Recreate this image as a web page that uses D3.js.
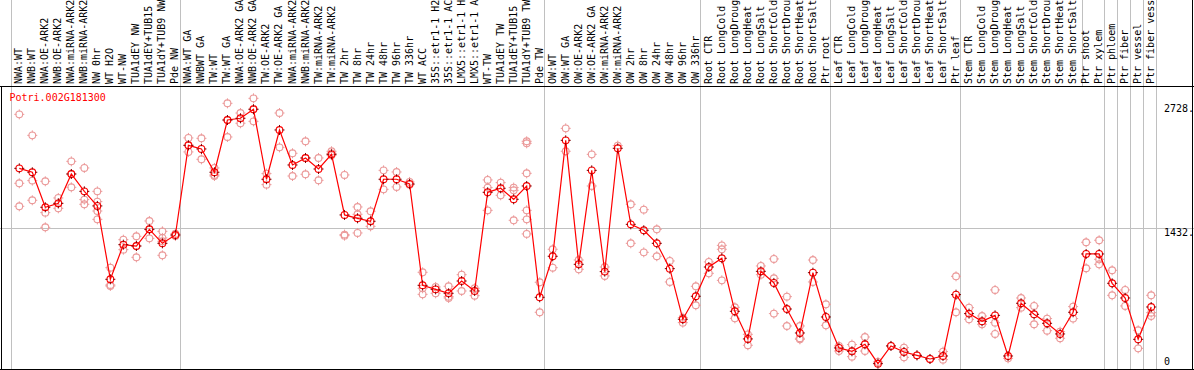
<!DOCTYPE html>
<html>
<head>
<meta charset="utf-8">
<script src="https://cdn.jsdelivr.net/npm/d3@7"></script>
<style>
  html, body { margin: 0; padding: 0; background: #fff; }
  svg { display: block; }
  text { font-family: "DejaVu Sans Mono", "Liberation Mono", monospace; font-size: 10px; }
</style>
</head>
<body>
<div class="chart-container"></div>
<script>
const geneName = 'Potri.002G181300';

const sampleLabels = [
  'NWA:WT', 'NWB:WT', 'NWA:OE-ARK2', 'NWB:OE-ARK2', 'NWA:miRNA-ARK2', 'NWB:miRNA-ARK2', 'NW 0hr', 'WT H2O', 'WT-NW',
  'TUA1dEY NW', 'TUA1dEY+TUB15', 'TUA1dY+TUB9 NW', 'Pde NW',
  'NWA:WT GA', 'NWBWT GA', 'TW:WT', 'TW:WT GA', 'NWA:OE-ARK2 GA', 'NWB:OE-ARK2 GA', 'TW:OE-ARK2', 'TW:OE-ARK2 GA',
  'NWA:miRNA-ARK2', 'NWB:miRNA-ARK2', 'TW:miRNA-ARK2', 'TW:miRNA-ARK2', 'TW 2hr', 'TW 8hr', 'TW 24hr', 'TW 48hr',
  'TW 96hr', 'TW 336hr', 'WT ACC', '35S::etr1-1 H2', '35S::etr1-1 AC', 'LMX5::etr1-1 H', 'LMX5::etr1-1 A', 'WT-TW',
  'TUA1dEY TW', 'TUA1dEY+TUB15', 'TUA1dY+TUB9 TW', 'Pde TW',
  'OW:WT', 'OW:WT GA', 'OW:OE-ARK2', 'OW:OE-ARK2 GA', 'OW:miRNA-ARK2', 'OW:miRNA-ARK2', 'OW 2hr', 'OW 8hr', 'OW 24hr',
  'OW 48hr', 'OW 96hr', 'OW 336hr',
  'Root CTR', 'Root LongCold', 'Root LongDroug', 'Root LongHeat', 'Root LongSalt', 'Root ShortCold', 'Root ShortDrou',
  'Root ShortHeat', 'Root ShortSalt', 'Ptr root',
  'Leaf CTR', 'Leaf LongCold', 'Leaf LongDroug', 'Leaf LongHeat', 'Leaf LongSalt', 'Leaf ShortCold', 'Leaf ShortDrou',
  'Leaf ShortHeat', 'Leaf ShortSalt', 'Ptr leaf',
  'Stem CTR', 'Stem LongCold', 'Stem LongDroug', 'Stem LongHeat', 'Stem LongSalt', 'Stem ShortCold', 'Stem ShortDrou',
  'Stem ShortHeat', 'Stem ShortSalt', 'Ptr shoot', 'Ptr xylem',
  'Ptr phloem', 'Ptr fiber', 'Ptr vessel', 'Ptr fiber vess'
];

// moyenne par échantillon
const meanValues = [
  2054, 2013, 1648, 1689, 1995, 1814, 1662, 897, 1258, 1244, 1418, 1272, 1359,
  2294, 2256, 2013, 2558, 2576, 2670, 1940, 2454, 2089, 2162, 2047, 2200, 1568, 1533, 1502,
  1940, 1940, 1891, 834, 792, 751, 879, 775, 1804, 1846, 1731, 1870, 709,
  1137, 2346, 1053, 2033, 977, 2263, 1470, 1408, 1272, 1008, 480, 720,
  1025, 1116, 563, 275, 980, 859, 587, 337, 966, 504,
  181, 146, 219, 17, 202, 139, 104, 66, 97, 737,
  539, 459, 521, 97, 647, 532, 438, 327, 553, 1161, 1161,
  855, 702, 271, 608
];

// réplicats
const replicateValues = [
  [2617, 1898, 1658], [2398, 1926, 1721], [1919, 1592, 1439], [1745, 1689, 1637], [2127, 1995, 1856],
  [2058, 1728, 1679], [1814, 1707, 1609, 1522], [1018, 838, 827], [1310, 1206], [1345, 1244, 1126],
  [1505, 1418, 1324], [1397, 1328, 1293, 1147], [1372, 1348],
  [2371, 2294, 2225], [2367, 2148], [2058, 1985, 1974], [2732, 2558, 2381], [2631, 2524],
  [2784, 2670, 2544], [1999, 1884], [2631, 2273], [2211, 1974], [2336, 2162, 1992],
  [2162, 1929], [2232, 2210, 2190], [1985, 1363, 1352], [1651, 1575, 1380], [1606, 1449],
  [2033, 1835], [2016, 1860], [1912, 1884], [970, 803, 740], [817, 751],
  [824, 716, 702], [945, 775], [803, 726], [1933, 1853, 1616], [1905, 1773],
  [1853, 1825, 1512], [2336, 2315, 2002, 1616, 1522, 1370], [866, 553],
  [1210, 1018], [2471, 2232], [1098, 1001], [2200, 1870], [1025, 932], [2291],
  [1679, 1272], [1623, 1178], [1418, 1137], [1088, 869], [497, 445], [824, 626],
  [1078, 959], [1251, 1210, 886], [605, 490], [323, 209], [1036, 945], [1109, 907, 539],
  [716, 410], [410, 282, 271], [1098, 869], [636, 417],
  [202, 149], [216, 90], [295, 149], [35], [202], [184, 83], [104], [66], [143, 59], [928, 553],
  [601, 480], [514, 428], [786, 445, 327], [73], [702, 601], [619, 428], [487, 361], [351, 282],
  [612, 487], [1283, 1012], [1304, 1105, 1053],
  [991, 730], [786, 619], [365, 177], [730, 549, 514]
];

const yTickValues = [2728, 1432, 0];
// index de l'échantillon avant lequel une ligne verticale est tracée
const groupBreaks = [0, 13, 41, 53, 63, 73, 84, 85, 86, 87, 88];
const labelOnlyBreaks = [82];

const width = 1194;
const height = 370;
const labelBottom = 86;
const plotLeft = 10.7;
const plotRight = 1155.6;
const plotBottom = 369.5;

const x = d3.scaleBand()
  .domain(d3.range(sampleLabels.length))
  .range([plotLeft, plotRight]);
const xPos = i => x(i) + x.bandwidth() * 0.66;
const breakX = d => Math.round(plotLeft + d * x.step()) + 0.5;

const y = d3.scaleLinear()
  .domain([0, 2728])
  .range([365.3, 103.7]);

const svg = d3.select('.chart-container')
  .append('svg')
  .attr('width', width)
  .attr('height', height)
  .attr('viewBox', [0, 0, width, height]);

// Grille
svg.append('line')
  .attr('x1', 0).attr('x2', width)
  .attr('y1', Math.round(y(1432)) + 0.5).attr('y2', Math.round(y(1432)) + 0.5)
  .attr('stroke', '#c0c0c0')
  .attr('shape-rendering', 'crispEdges');

svg.selectAll('.vgrid')
  .data(groupBreaks)
  .join('line')
  .attr('class', 'vgrid')
  .attr('x1', breakX)
  .attr('x2', breakX)
  .attr('y1', 0).attr('y2', plotBottom)
  .attr('stroke', '#c0c0c0')
  .attr('shape-rendering', 'crispEdges');

svg.selectAll('.lgrid')
  .data(labelOnlyBreaks)
  .join('line')
  .attr('class', 'lgrid')
  .attr('x1', d => breakX(d) + 4)
  .attr('x2', d => breakX(d) + 4)
  .attr('y1', 0).attr('y2', labelBottom)
  .attr('stroke', '#c0c0c0')
  .attr('shape-rendering', 'crispEdges');

// Cadre
svg.append('path')
  .attr('d', `M0,${labelBottom + 0.5}H${width}M1.5,${labelBottom}V${plotBottom}M0,${plotBottom - 0.5}H${width}M${width - 1.5},0V${plotBottom}`)
  .attr('fill', 'none')
  .attr('stroke', '#000')
  .attr('stroke-width', 1)
  .attr('shape-rendering', 'crispEdges');

// Libellés des échantillons (verticaux)
svg.selectAll('.slabel')
  .data(sampleLabels)
  .join('text')
  .attr('class', 'slabel')
  .attr('transform', (d, i) => `translate(${xPos(i) + 3},84) rotate(-90)`)
  .attr('fill', '#000')
  .text(d => d);

// Axe des valeurs à droite
svg.selectAll('.ylabel')
  .data(yTickValues)
  .join('text')
  .attr('class', 'ylabel')
  .attr('x', 1164)
  .attr('y', d => d === 0 ? y(d) - 0.5 : y(d) + 8)
  .attr('fill', '#000')
  .text(d => d === 0 ? '0' : d + '.');

svg.append('text')
  .attr('x', 9.5)
  .attr('y', 101)
  .attr('fill', '#ff0000')
  .text(geneName);

// Marqueur : cercle avec petits traits
function marker(g, cx, cy, stroke, tick) {
  const r = 3.4;
  g.append('circle')
    .attr('cx', cx).attr('cy', cy).attr('r', r)
    .attr('fill', 'none').attr('stroke', stroke).attr('stroke-width', 1.1);
  g.append('path')
    .attr('d', `M${cx},${cy - r - 1.6}V${cy - r + 0.6}M${cx},${cy + r - 0.6}V${cy + r + 1.6}` +
      `M${cx - r - 1.6},${cy}H${cx - r + 0.6}M${cx + r - 0.6},${cy}H${cx + r + 1.6}`)
    .attr('stroke', tick).attr('stroke-width', 1);
}

const reps = svg.append('g');
replicateValues.forEach((vals, i) => {
  vals.forEach(v => marker(reps, xPos(i), y(v), '#eb9a9a', '#eb9a9a'));
});

const line = d3.line()
  .x((d, i) => xPos(i))
  .y(d => y(d));

svg.append('path')
  .datum(meanValues)
  .attr('fill', 'none')
  .attr('stroke', '#ff0000')
  .attr('stroke-width', 1.2)
  .attr('d', line);

const means = svg.append('g');
meanValues.forEach((v, i) => marker(means, xPos(i), y(v), '#ff0000', '#7a0000'));
</script>
</body>
</html>
